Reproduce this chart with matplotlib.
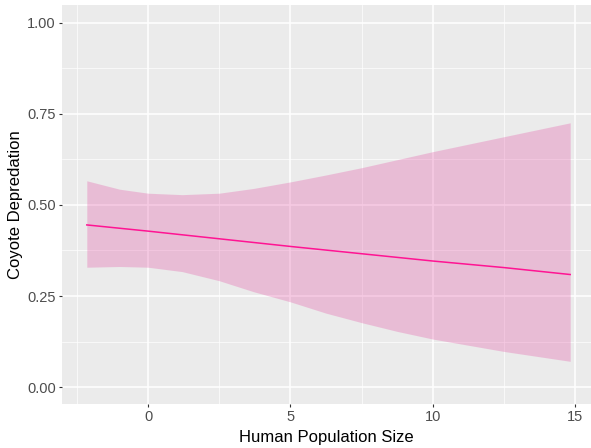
import matplotlib
matplotlib.use('Agg')
import matplotlib.pyplot as plt
from matplotlib.ticker import MultipleLocator

# values
band_x = [-2.15, -1.0, 0.0, 1.2, 2.5, 3.7, 5.0, 6.25, 7.5, 8.75, 10.0, 12.5, 14.82]
band_upper = [0.566, 0.543, 0.532, 0.528, 0.532, 0.545, 0.563, 0.582, 0.602, 0.624, 0.646, 0.687, 0.725]
band_lower = [0.329, 0.331, 0.329, 0.317, 0.292, 0.262, 0.234, 0.203, 0.177, 0.153, 0.132, 0.098, 0.071]
fit_x = [-2.15, 0.0, 5.0, 10.0, 12.5, 14.82]
fit_y = [0.445, 0.428, 0.386, 0.346, 0.328, 0.309]

x_ticks = [0, 5, 10, 15]
y_ticks = [0.00, 0.25, 0.50, 0.75, 1.00]
y_ticklabels = ['0.00', '0.25', '0.50', '0.75', '1.00']

plt.rcParams['font.family'] = ['Liberation Sans', 'DejaVu Sans']

fig = plt.figure(figsize=(5.91, 4.48), dpi=100)
ax = fig.add_axes([62 / 591, 1 - 404 / 448, 1 - 62 / 591, (404 - 5) / 448])
ax.set_facecolor('#EBEBEB')
for s in ax.spines.values():
    s.set_visible(False)

ax.set_xlim(-3.02, 15.55)
ax.set_ylim(-0.046, 1.048)
ax.set_xticks(x_ticks)
ax.set_yticks(y_ticks)
ax.set_yticklabels(y_ticklabels)
ax.xaxis.set_minor_locator(MultipleLocator(2.5))
ax.yaxis.set_minor_locator(MultipleLocator(0.125))
ax.grid(True, which='major', color='white', linewidth=1.1)
ax.grid(True, which='minor', color='white', linewidth=0.5)
ax.set_axisbelow(True)
ax.tick_params(which='major', length=2.2, width=0.8, color='#333333',
               labelcolor='#4D4D4D', labelsize=10.5, pad=2.2)
ax.tick_params(which='minor', length=0)

ax.fill_between(band_x, band_lower, band_upper, color='#E452A5', alpha=0.3,
                linewidth=0, zorder=2)
ax.plot(fit_x, fit_y, color='#FF1493', linewidth=1.1, zorder=3)

ax.set_xlabel('Human Population Size', fontsize=12, labelpad=4)
ax.set_ylabel('Coyote Depredation', fontsize=12, labelpad=3)

fig.savefig('out.png', dpi=100)
